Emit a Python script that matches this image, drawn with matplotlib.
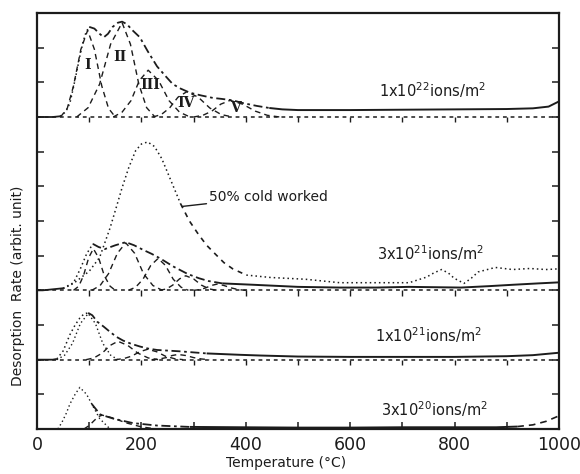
import matplotlib
matplotlib.use("Agg")
import matplotlib.pyplot as plt

# ---------------- data (height above each trace's own baseline) ----------------
# 1x10^22 ions/m^2 : measured total spectrum
t22 = [0, 30, 44, 55, 63, 69, 76, 82, 88, 94, 100, 110, 120, 128, 136, 145, 155, 163, 172,
       183, 197, 212, 230, 245, 260, 275, 293, 315, 337, 355, 375, 395, 421, 445, 470, 500,
       600, 700, 800, 900, 950, 980, 1000]
h22 = [0, 0, 0.02, 0.15, 0.4, 0.8, 1.3, 1.75, 2.15, 2.45, 2.6, 2.55, 2.4, 2.3, 2.4, 2.6, 2.72,
       2.75, 2.68, 2.5, 2.3, 1.9, 1.46, 1.2, 0.95, 0.82, 0.7, 0.62, 0.55, 0.52, 0.48, 0.4,
       0.32, 0.26, 0.22, 0.2, 0.2, 0.21, 0.22, 0.23, 0.25, 0.3, 0.45]
# deconvoluted peaks I..V
pI_t = [45, 58, 70, 84, 97, 110, 124, 137, 150]
pI_h = [0, 0.25, 0.9, 1.95, 2.5, 1.95, 0.9, 0.25, 0]
pII_t = [76, 98, 120, 141, 163, 179, 195, 210, 226]
pII_h = [0, 0.27, 0.95, 2.1, 2.72, 2.1, 0.95, 0.27, 0]
pIII_t = [146, 163, 180, 196, 213, 233, 253, 273, 293]
pIII_h = [0, 0.14, 0.47, 1.05, 1.35, 1.05, 0.47, 0.14, 0]
pIV_t = [222, 238, 254, 270, 287, 309, 331, 353, 375]
pIV_h = [0, 0.07, 0.26, 0.57, 0.73, 0.57, 0.26, 0.07, 0]
pV_t = [300, 318, 335, 352, 370, 394, 418, 441, 465]
pV_h = [0, 0.05, 0.17, 0.37, 0.48, 0.37, 0.17, 0.05, 0]
peak_labels = ["I", "II", "III", "IV", "V"]
peak_label_t = [96, 159, 216, 285, 381]
peak_label_h = [1.49, 1.73, 0.91, 0.41, 0.25]

# 3x10^21 ions/m^2
t321 = [0, 11, 50, 70, 83, 95, 107, 118, 130, 150, 170, 186, 203, 220, 236, 262, 289, 310,
        328, 355, 415, 500, 580, 650, 713, 812, 865, 911, 960, 1000]
h321 = [0, 0, 0.06, 0.22, 0.62, 1.05, 1.34, 1.25, 1.19, 1.3, 1.39, 1.3, 1.17, 1.05, 0.92,
        0.68, 0.47, 0.35, 0.27, 0.2, 0.16, 0.1, 0.08, 0.08, 0.1, 0.08, 0.12, 0.16, 0.2, 0.23]
c321_1_t = [70, 80, 89, 99, 108, 118, 129, 140, 150]
c321_1_h = [0, 0.12, 0.42, 0.94, 1.2, 0.94, 0.42, 0.12, 0]
c321_2_t = [105, 121, 137, 154, 170, 187, 204, 222, 240]
c321_2_h = [0, 0.14, 0.48, 1.07, 1.37, 1.07, 0.48, 0.14, 0]
c321_3_t = [175, 189, 203, 218, 232, 246, 261, 276, 290]
c321_3_h = [0, 0.09, 0.32, 0.72, 0.92, 0.72, 0.32, 0.09, 0]
c321_4_t = [235, 248, 260, 273, 285, 300, 315, 330, 345]
c321_4_h = [0, 0.04, 0.15, 0.33, 0.42, 0.33, 0.15, 0.04, 0]
c321_5_t = [300, 312, 323, 334, 345, 358, 372, 386, 400]
c321_5_h = [0, 0.02, 0.07, 0.14, 0.18, 0.14, 0.07, 0.02, 0]

# 50% cold worked (same fluence 3x10^21)
tcw = [50, 70, 100, 120, 140, 152, 163, 176, 189, 200, 212, 225, 239, 257, 275, 292, 309, 325,
       342, 358, 375, 401, 448, 514, 580, 646, 713, 746, 760, 775, 788, 799, 818, 832, 845,
       878, 911, 944, 975, 1000]
hcw = [0.05, 0.2, 0.55, 0.95, 1.8, 2.4, 2.96, 3.55, 4.03, 4.22, 4.28, 4.15, 3.8, 3.15, 2.5,
       2.0, 1.62, 1.3, 1.04, 0.8, 0.62, 0.44, 0.37, 0.32, 0.22, 0.22, 0.22, 0.38, 0.5, 0.6,
       0.5, 0.35, 0.2, 0.35, 0.53, 0.66, 0.6, 0.63, 0.6, 0.62]

# 1x10^21 ions/m^2
t121 = [0, 30, 38, 50, 63, 73, 82, 90, 98, 106, 115, 128, 140, 152, 165, 180, 197, 213, 230,
        274, 325, 389, 427, 500, 600, 700, 800, 900, 950, 1000]
h121 = [0, 0, 0.02, 0.25, 0.72, 1.0, 1.2, 1.32, 1.35, 1.28, 1.1, 0.95, 0.8, 0.66, 0.55, 0.46,
        0.38, 0.32, 0.28, 0.24, 0.18, 0.14, 0.12, 0.09, 0.08, 0.08, 0.08, 0.1, 0.13, 0.2]
c121_1_t = [38, 53, 68, 83, 98, 112, 126, 141, 155]
c121_1_h = [0, 0.13, 0.47, 1.04, 1.33, 1.04, 0.47, 0.13, 0]
c121_2_t = [94, 109, 125, 140, 155, 174, 193, 213, 232]
c121_2_h = [0, 0.05, 0.19, 0.41, 0.53, 0.41, 0.19, 0.05, 0]
c121_3_t = [150, 166, 181, 197, 212, 229, 246, 263, 280]
c121_3_h = [0, 0.03, 0.1, 0.23, 0.3, 0.23, 0.1, 0.03, 0]
c121_4_t = [220, 234, 248, 259, 270, 285, 300, 315, 330]
c121_4_h = [0, 0.02, 0.06, 0.12, 0.15, 0.12, 0.06, 0.02, 0]

# 3x10^20 ions/m^2
c320_1_t = [0, 30, 40, 48, 56, 63, 73, 82, 95, 105, 120, 140]
c320_1_h = [0, 0, 0.0, 0.2, 0.45, 0.72, 1.0, 1.2, 1.0, 0.72, 0.3, 0]
c320_2_t = [90, 100, 110, 118, 125, 145, 170, 200, 230]
c320_2_h = [0, 0.1, 0.25, 0.36, 0.4, 0.32, 0.18, 0.06, 0]
t320 = [105, 121, 146, 184, 230, 293, 389, 500, 600, 700, 800, 880, 920, 950, 975, 1000]
h320 = [0.72, 0.42, 0.3, 0.17, 0.1, 0.06, 0.05, 0.04, 0.04, 0.05, 0.05, 0.05, 0.07, 0.12,
        0.22, 0.38]

fluence_labels = [r"1x10$^{22}$ions/m$^2$", r"3x10$^{21}$ions/m$^2$",
                  r"1x10$^{21}$ions/m$^2$", r"3x10$^{20}$ions/m$^2$"]
xtick_vals = [0, 200, 400, 600, 800, 1000]

# ---------------- styling ----------------
INK = "#1c1c1c"
DOT = (0, (1, 2))
DASH = (0, (4, 3))
DASHDOT = (0, (5, 2, 1.5, 2))
BASE = (0, (2.5, 2.5))

plt.rcParams["font.family"] = ["DejaVu Sans"]
fig = plt.figure(figsize=(5.8, 4.74), dpi=100)
fig.patch.set_facecolor("white")
ax = fig.add_axes([37 / 580, 1 - 429 / 474, 522 / 580, 416 / 474])

offsets = {"22": 9.0, "321": 4.0, "121": 2.0, "320": 0.0}


def seg(t, h, off, lo, hi, ls, lw=1.2):
    tt = [a for a in t if lo <= a <= hi]
    hh = [b + off for a, b in zip(t, h) if lo <= a <= hi]
    ax.plot(tt, hh, color=INK, lw=lw, linestyle=ls, solid_capstyle="butt")


# baselines with their own tick marks
for off in offsets.values():
    if off > 0:
        ax.plot([0, 1000], [off, off], color=INK, lw=1.1, linestyle=BASE)
        ax.vlines(range(100, 1000, 100), off - 0.15, off, color=INK, lw=1.0)

# --- 1x10^22
o = offsets["22"]
seg(t22, h22, o, 0, 44, "-", 1.3)
seg(t22, h22, o, 44, 100, DOT, 1.1)
seg(t22, h22, o, 100, 445, DASHDOT, 1.3)
seg(t22, h22, o, 445, 1000, "-", 1.4)
for ct, ch in [(pI_t, pI_h), (pII_t, pII_h), (pIII_t, pIII_h), (pIV_t, pIV_h), (pV_t, pV_h)]:
    seg(ct, ch, o, 0, 1000, DASH, 1.0)
for lab, lt, lh in zip(peak_labels, peak_label_t, peak_label_h):
    ax.text(lt, o + lh, lab, family="DejaVu Serif", fontweight="bold", fontsize=10,
            ha="center", va="center", color=INK)

# --- 3x10^21
o = offsets["321"]
seg(tcw, hcw, o, 0, 275, DOT, 1.1)
seg(tcw, hcw, o, 275, 401, (0, (3, 3)), 1.2)
seg(tcw, hcw, o, 401, 1000, DOT, 1.1)
seg(t321, h321, o, 0, 50, "-", 1.3)
seg(t321, h321, o, 50, 107, DOT, 1.1)
seg(t321, h321, o, 107, 355, DASHDOT, 1.3)
seg(t321, h321, o, 355, 1000, "-", 1.4)
for ct, ch in [(c321_1_t, c321_1_h), (c321_2_t, c321_2_h), (c321_3_t, c321_3_h),
               (c321_4_t, c321_4_h), (c321_5_t, c321_5_h)]:
    seg(ct, ch, o, 0, 1000, DASH, 1.0)
ax.annotate("50% cold worked", xy=(278, o + 2.42), xytext=(330, o + 2.7),
            fontsize=10, ha="left", va="center", color=INK,
            arrowprops=dict(arrowstyle="-", color=INK, lw=1.0, shrinkA=0, shrinkB=0))

# --- 1x10^21
o = offsets["121"]
seg(t121, h121, o, 0, 38, "-", 1.3)
seg(t121, h121, o, 38, 98, DOT, 1.1)
seg(t121, h121, o, 98, 325, DASHDOT, 1.3)
seg(t121, h121, o, 325, 1000, "-", 1.4)
seg(c121_1_t, c121_1_h, o, 0, 1000, DOT, 1.0)
for ct, ch in [(c121_2_t, c121_2_h), (c121_3_t, c121_3_h), (c121_4_t, c121_4_h)]:
    seg(ct, ch, o, 0, 1000, DASH, 1.0)

# --- 3x10^20
o = offsets["320"]
seg(c320_1_t, c320_1_h, o, 0, 40, "-", 1.4)
seg(c320_1_t, c320_1_h, o, 40, 140, DOT, 1.0)
seg(c320_2_t, c320_2_h, o, 0, 1000, DASH, 1.0)
seg(t320, h320, o, 105, 300, DASHDOT, 1.3)
seg(t320, h320, o, 293, 920, "-", 1.4)
seg(t320, h320, o, 920, 1000, DASH, 1.2)

# fluence labels
lab_t = [757, 753, 749, 762]
lab_y = [offsets["22"] + 0.77, offsets["321"] + 1.08, offsets["121"] + 0.71,
         offsets["320"] + 0.56]
for s, lt, ly in zip(fluence_labels, lab_t, lab_y):
    ax.text(lt, ly, s, fontsize=10.5, ha="center", va="center", color=INK)

# axes
ax.set_xlim(0, 1000)
ax.set_ylim(0, 12)
ax.set_xticks(xtick_vals)
ax.set_xticklabels([str(v) for v in xtick_vals])
ax.set_xticks(range(100, 1000, 200), minor=True)
ax.set_yticks(range(1, 12))
ax.tick_params(axis="x", which="both", direction="in", length=5, width=1.1, top=False,
               labelsize=12.5, pad=5, colors=INK)
ax.tick_params(axis="y", which="both", direction="in", length=5, width=1.1, left=True,
               right=True, labelleft=False, colors=INK)
for sp in ax.spines.values():
    sp.set_linewidth(1.6)
    sp.set_color(INK)

fig.text(286 / 580, 1 - 463 / 474, "Temperature (°C)", fontsize=10, ha="center",
         va="center", color=INK)
fig.text(18 / 580, 1 - 286 / 474, "Desorption  Rate (arbit. unit)", fontsize=10,
         rotation=90, ha="center", va="center", color=INK)

fig.savefig("out.png", dpi=100, facecolor="white")
